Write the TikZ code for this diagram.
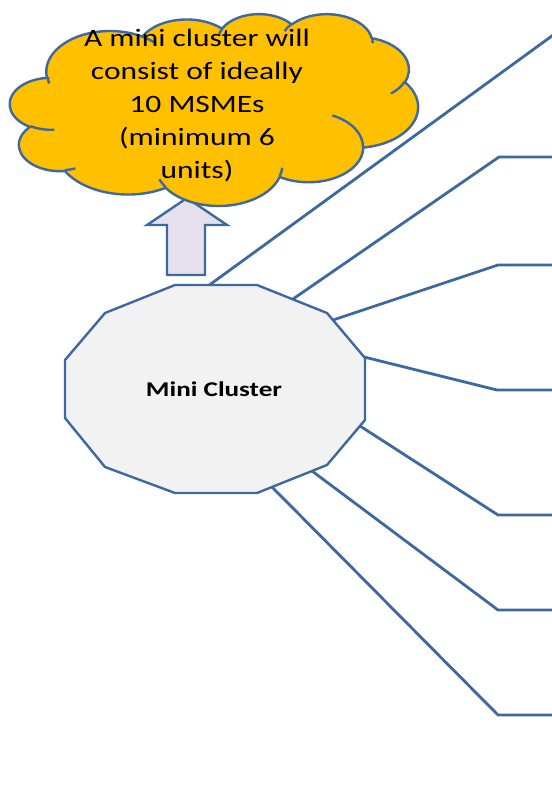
\documentclass[tikz,border=0pt]{standalone}
\usepackage{fontspec}
\setmainfont{Carlito}
\definecolor{lineblue}{RGB}{62,104,160}
\definecolor{cloudfill}{RGB}{255,192,0}
\definecolor{polyfill}{RGB}{242,242,242}
\definecolor{arrowfill}{RGB}{230,224,236}
\begin{document}
\begin{tikzpicture}[x=1pt,y=-1pt,
  conn/.style={draw=lineblue, line width=2.8pt, line join=miter},
  outline/.style={draw=lineblue, line width=2.4pt, line join=round},
  cloudtext/.style={align=center, font=\fontsize{25}{33}\selectfont, xscale=1.26, transform shape, inner sep=0pt},
  polytext/.style={font=\fontsize{21}{25}\selectfont\bfseries, xscale=1.29, transform shape, inner sep=0pt}]
\useasboundingbox (0,0) rectangle (551,797);
\fill[white] (0,0) rectangle (551,797);

% connector end points
\coordinate (s1) at (208,286);
\coordinate (e1) at (556,33);
\coordinate (s2) at (293,299);
\coordinate (k2) at (499,157);
\coordinate (e2) at (556,157);
\coordinate (s3) at (333,320);
\coordinate (k3) at (498,265);
\coordinate (e3) at (556,265);
\coordinate (s4) at (364,357);
\coordinate (k4) at (497,390);
\coordinate (e4) at (556,390);
\coordinate (s5) at (360,426);
\coordinate (k5) at (498,515);
\coordinate (e5) at (556,515);
\coordinate (s6) at (312,471);
\coordinate (k6) at (498,610);
\coordinate (e6) at (556,610);
\coordinate (s7) at (272,487);
\coordinate (k7) at (498,715);
\coordinate (e7) at (556,715);

\draw[conn] (s1) -- (e1);
\draw[conn] (s2) -- (k2) -- (e2);
\draw[conn] (s3) -- (k3) -- (e3);
\draw[conn] (s4) -- (k4) -- (e4);
\draw[conn] (s5) -- (k5) -- (e5);
\draw[conn] (s6) -- (k6) -- (e6);
\draw[conn] (s7) -- (k7) -- (e7);

% dodecagon
\coordinate (p1) at (175,285);
\coordinate (p2) at (257,285);
\coordinate (p3) at (327,313);
\coordinate (p4) at (365,358);
\coordinate (p5) at (365,420);
\coordinate (p6) at (327,465);
\coordinate (p7) at (257,493);
\coordinate (p8) at (175,493);
\coordinate (p9) at (105,467);
\coordinate (p10) at (65,418);
\coordinate (p11) at (65,360);
\coordinate (p12) at (105,313);
\draw[outline, fill=polyfill, line join=miter] (p1) -- (p2) -- (p3) -- (p4) -- (p5) -- (p6) -- (p7) -- (p8) -- (p9) -- (p10) -- (p11) -- (p12) -- cycle;
\node[polytext, anchor=base] (mini) at (214,396.5) {Mini Cluster};

% block arrow
\draw[outline, fill=arrowfill, line join=miter] (187,198) -- (227,225) -- (205,225) -- (205,275) -- (167,275) -- (167,225) -- (147,225) -- cycle;

% cloud
\begin{scope}[shift={(10pt,-13.5pt)}, x=0.9444pt, y=-0.444pt]
\draw[outline, fill=cloudfill] (39.00,143.70)
  arc[start angle=-187.75, end angle=-59.64, x radius=67.53, y radius=91.90]
  arc[start angle=-152.02, end angle=-45.45, x radius=53.33, y radius=72.67]
  arc[start angle=-153.49, end angle=-37.32, x radius=43.65, y radius=59.45]
  arc[start angle=-139.71, end angle=-10.22, x radius=48.57, y radius=65.95]
  arc[start angle=-74.77, end angle=23.22, x radius=53.33, y radius=72.73]
  arc[start angle=-37.53, end angle=81.86, x radius=67.75, y radius=92.20]
  arc[start angle=0.46, end angle=121.98, x radius=57.85, y radius=78.67]
  arc[start angle=16.85, end angle=146.22, x radius=67.52, y radius=92.15]
  arc[start angle=58.98, end angle=150.18, x radius=77.20, y radius=105.43]
  arc[start angle=83.31, end angle=223.12, x radius=43.60, y radius=59.18]
  arc[start angle=120.36, end angle=264.11, x radius=43.45, y radius=59.45]
  -- cycle;
\draw[outline]
  (46.93,261.77) arc[start angle=85.54, end angle=120.36, x radius=43.45, y radius=59.45]
  (69.28,348.99) arc[start angle=68.23, end angle=83.31, x radius=43.60, y radius=59.18]
  (164.78,390.90) arc[start angle=146.22, end angle=158.47, x radius=67.52, y radius=92.15]
  (288.27,347.51) arc[start angle=4.73, end angle=16.85, x radius=67.52, y radius=92.15]
  (341.29,229.54) arc[start angle=-64.02, end angle=0.46, x radius=57.85, y radius=78.67]
  (417.98,153.54) arc[start angle=23.22, end angle=49.64, x radius=53.33, y radius=72.73]
  (383.24,54.26) arc[start angle=-10.21, end angle=0.82, x radius=48.57, y radius=65.95]
  (290.78,39.52) arc[start angle=-156.30, end angle=-139.70, x radius=48.57, y radius=65.95]
  (221.41,47.20) arc[start angle=-167.72, end angle=-153.49, x radius=43.65, y radius=59.45]
  (140.00,51.92) arc[start angle=-59.64, end angle=-45.76, x radius=67.53, y radius=91.90]
  (41.27,157.89) arc[start angle=170.03, end angle=179.58, x radius=67.53, y radius=91.90];
\end{scope}
\node[cloudtext] (cloudtxt) at (197,106) {A mini cluster will\\consist of ideally\\10 MSMEs\\(minimum 6\\units)};
\end{tikzpicture}
\end{document}
